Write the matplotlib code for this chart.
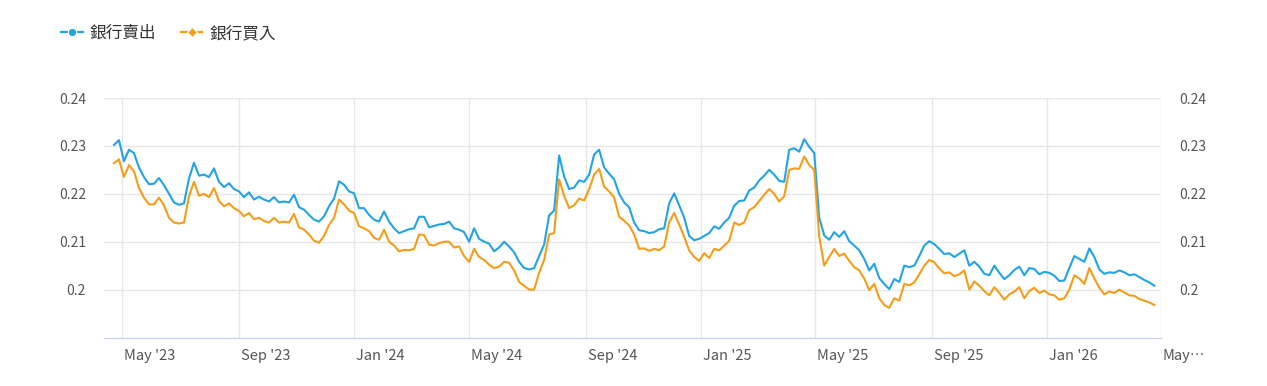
import pandas as pd
import matplotlib.pyplot as plt
import matplotlib.transforms as mtransforms
from matplotlib.lines import Line2D

plt.rcParams['font.family'] = ['Noto Sans CJK TC', 'DejaVu Sans']

# -------------------------------
# Data (~5-day steps)
# -------------------------------
sell = [
    0.2302, 0.2312, 0.2268, 0.2292, 0.2285, 0.2255, 0.2235, 0.2220, 0.2221, 0.2233,
    0.2218, 0.2200, 0.2182, 0.2177, 0.2180, 0.2232, 0.2265, 0.2238, 0.2240, 0.2235,
    0.2253, 0.2225, 0.2214, 0.2222, 0.2210, 0.2205, 0.2193, 0.2203, 0.2188,
    0.2194, 0.2188, 0.2184, 0.2193, 0.2182, 0.2184, 0.2182, 0.2198, 0.2172, 0.2167,
    0.2156, 0.2146, 0.2142, 0.2153, 0.2174, 0.2190, 0.2226, 0.2219, 0.2205, 0.2201,
    0.2170, 0.2170, 0.2156, 0.2146, 0.2142, 0.2163, 0.2142, 0.2128, 0.2118, 0.2122,
    0.2126, 0.2128, 0.2152, 0.2152, 0.2130, 0.2133, 0.2136, 0.2137, 0.2142, 0.2128,
    0.2125, 0.2120, 0.2100, 0.2128, 0.2106, 0.2100, 0.2096, 0.2080, 0.2088, 0.2100,
    0.2090, 0.2078, 0.2058, 0.2045, 0.2042, 0.2045, 0.2070, 0.2094, 0.2155, 0.2165,
    0.2280, 0.2236, 0.2210, 0.2213, 0.2228, 0.2225, 0.2240, 0.2282, 0.2292, 0.2255,
    0.2242, 0.2230, 0.2200, 0.2182, 0.2172, 0.2140, 0.2124, 0.2122, 0.2118, 0.2120,
    0.2126, 0.2128, 0.2180, 0.2201, 0.2176, 0.2150, 0.2112, 0.2103, 0.2106, 0.2112,
    0.2118, 0.2132, 0.2127, 0.2140, 0.2150, 0.2175, 0.2185, 0.2186, 0.2207, 0.2213,
    0.2228, 0.2238, 0.2250, 0.2240, 0.2227, 0.2225, 0.2292, 0.2295, 0.2288, 0.2314,
    0.2298, 0.2285, 0.2150, 0.2113, 0.2104, 0.2120, 0.2110, 0.2122, 0.2101, 0.2092,
    0.2082, 0.2064, 0.2040, 0.2054, 0.2024, 0.2012, 0.2001, 0.2022, 0.2016, 0.2050,
    0.2047, 0.2050, 0.2070, 0.2092, 0.2101, 0.2095, 0.2085, 0.2074, 0.2076, 0.2068,
    0.2075, 0.2082, 0.2050, 0.2058, 0.2048, 0.2033, 0.2030, 0.2050, 0.2035, 0.2022,
    0.2030, 0.2041, 0.2048, 0.2030, 0.2045, 0.2043, 0.2032, 0.2037, 0.2035, 0.2029,
    0.2018, 0.2019, 0.2045, 0.2070, 0.2064, 0.2058, 0.2086, 0.2068, 0.2042, 0.2033,
    0.2036, 0.2035, 0.2040, 0.2036, 0.2030, 0.2032, 0.2026, 0.2020, 0.2015, 0.2008,
]

buy = [
    0.2264, 0.2272, 0.2235, 0.2260, 0.2247, 0.2212, 0.2192, 0.2178, 0.2178, 0.2192,
    0.2176, 0.2150, 0.2140, 0.2138, 0.2140, 0.2195, 0.2225, 0.2196, 0.2200, 0.2193,
    0.2212, 0.2185, 0.2174, 0.2180, 0.2170, 0.2164, 0.2153, 0.2160, 0.2147,
    0.2150, 0.2143, 0.2140, 0.2150, 0.2140, 0.2142, 0.2140, 0.2158, 0.2130, 0.2125,
    0.2115, 0.2102, 0.2098, 0.2112, 0.2135, 0.2150, 0.2188, 0.2178, 0.2165, 0.2160,
    0.2132, 0.2128, 0.2122, 0.2108, 0.2104, 0.2125, 0.2100, 0.2092, 0.2080, 0.2083,
    0.2082, 0.2085, 0.2115, 0.2114, 0.2094, 0.2092, 0.2097, 0.2100, 0.2100, 0.2088,
    0.2090, 0.2070, 0.2058, 0.2085, 0.2068, 0.2062, 0.2052, 0.2045, 0.2048, 0.2058,
    0.2056, 0.2040, 0.2016, 0.2008, 0.2000, 0.2000, 0.2035, 0.2062, 0.2115, 0.2118,
    0.2230, 0.2196, 0.2170, 0.2176, 0.2190, 0.2186, 0.2210, 0.2240, 0.2252, 0.2215,
    0.2205, 0.2192, 0.2152, 0.2144, 0.2134, 0.2115, 0.2085, 0.2086, 0.2081, 0.2085,
    0.2082, 0.2090, 0.2140, 0.2160, 0.2136, 0.2110, 0.2082, 0.2068, 0.2060, 0.2076,
    0.2066, 0.2085, 0.2082, 0.2092, 0.2102, 0.2140, 0.2135, 0.2140, 0.2166, 0.2172,
    0.2185, 0.2198, 0.2210, 0.2200, 0.2184, 0.2195, 0.2250, 0.2253, 0.2252, 0.2278,
    0.2260, 0.2250, 0.2110, 0.2050, 0.2068, 0.2085, 0.2070, 0.2075, 0.2060, 0.2047,
    0.2040, 0.2023, 0.1999, 0.2012, 0.1982, 0.1968, 0.1962, 0.1982, 0.1977, 0.2012,
    0.2009, 0.2015, 0.2032, 0.2050, 0.2062, 0.2057, 0.2044, 0.2034, 0.2036, 0.2028,
    0.2032, 0.2040, 0.2000, 0.2017, 0.2008, 0.1997, 0.1988, 0.2005, 0.1993, 0.1979,
    0.1990, 0.1996, 0.2005, 0.1982, 0.1997, 0.2004, 0.1993, 0.1998, 0.1990, 0.1988,
    0.1979, 0.1982, 0.2000, 0.2030, 0.2023, 0.2012, 0.2045, 0.2023, 0.2004, 0.1990,
    0.1996, 0.1993, 0.2000, 0.1994, 0.1988, 0.1987, 0.1980, 0.1977, 0.1973, 0.1968,
]

dates = pd.date_range("2023-04-22 12:00", "2026-04-24", periods=len(sell))

x_ticks = pd.to_datetime(["2023-05-01", "2023-09-01", "2024-01-01", "2024-05-01", "2024-09-01",
                          "2025-01-01", "2025-05-01", "2025-09-01", "2026-01-01", "2026-05-01"])
x_labels = ["May '23", "Sep '23", "Jan '24", "May '24", "Sep '24",
            "Jan '25", "May '25", "Sep '25", "Jan '26", "May\u2026"]
y_ticks = [0.20, 0.21, 0.22, 0.23, 0.24]
y_labels = ["0.2", "0.21", "0.22", "0.23", "0.24"]

names = ["銀行賣出", "銀行買入"]
blue = "#22a3e4"
orange = "#f49d18"

# -------------------------------
# Plot
# -------------------------------
fig = plt.figure(figsize=(12.67, 3.86), dpi=100)
ax = fig.add_axes([104 / 1267, 1 - 337.5 / 386, (1161 - 104) / 1267, (337.5 - 98) / 386])

ax.plot(dates, sell, color=blue, linewidth=1.5, solid_joinstyle="round")
ax.plot(dates, buy, color=orange, linewidth=1.5, solid_joinstyle="round")

ax.set_xlim(pd.Timestamp("2023-04-12"), pd.Timestamp("2026-05-01"))
ax.set_ylim(0.19, 0.24)

ax.set_xticks(x_ticks)
ax.set_xticklabels(x_labels)
ax.set_yticks(y_ticks)
ax.set_yticklabels(y_labels)

ax.tick_params(axis="x", length=0, pad=8, labelsize=10.5, labelcolor="#555555")
ax.tick_params(axis="y", length=0, pad=13, labelsize=10, labelcolor="#555555",
               labelleft=True, labelright=True)

# tick labels start just right of their gridline
offset = mtransforms.ScaledTranslation(2 / 100, 0, fig.dpi_scale_trans)
for lbl in ax.get_xticklabels():
    lbl.set_horizontalalignment("left")
    lbl.set_transform(lbl.get_transform() + offset)

ax.grid(True, color="#e6e6e6", linewidth=1)
ax.set_axisbelow(True)
for side in ["top", "left", "right"]:
    ax.spines[side].set_visible(False)
ax.spines["bottom"].set_color("#ccd6eb")
ax.spines["bottom"].set_linewidth(1)

# -------------------------------
# Legend
# -------------------------------
handles = [
    Line2D([], [], color=blue, linewidth=1.6, marker="o", markersize=6,
           markeredgecolor="white", markeredgewidth=0.8),
    Line2D([], [], color=orange, linewidth=1.6, marker="D", markersize=5,
           markeredgecolor="white", markeredgewidth=0.8),
]
fig.legend(handles, names, loc="upper left", bbox_to_anchor=(61 / 1267, 1 - 25 / 386),
           ncol=2, frameon=False, fontsize=12, handlelength=1.3, handletextpad=0.4,
           columnspacing=1.5, labelcolor="#333333", borderaxespad=0, borderpad=0)

fig.savefig("out.png", dpi=100, facecolor="white")
